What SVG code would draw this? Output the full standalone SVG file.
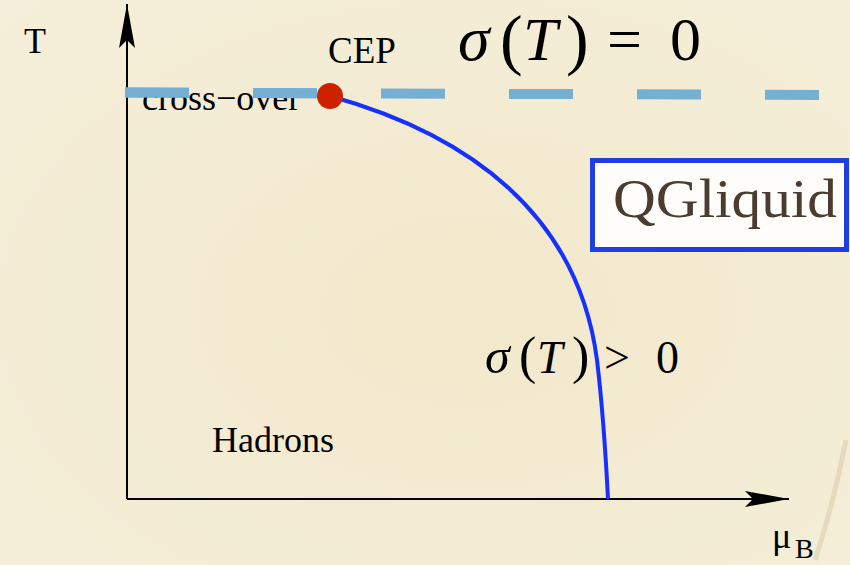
<svg xmlns="http://www.w3.org/2000/svg" width="850" height="565" viewBox="0 0 850 565">
<defs>
<marker id="arr" markerUnits="userSpaceOnUse" orient="auto" markerWidth="50" markerHeight="20" refX="44" refY="8" viewBox="0 0 50 20" overflow="visible">
<path d="M44,8 L0,0 L8,8 L0,16 Z" fill="#000"/>
</marker>
<radialGradient id="bg" cx="0.55" cy="0.55" r="0.8">
<stop offset="0" stop-color="#f2e8cb"/>
<stop offset="1" stop-color="#f5efdb"/>
</radialGradient>
</defs>
<style>
.serif{font-family:"Liberation Serif","Times New Roman",serif;fill:#000}
.it{font-style:italic}
</style>
<rect width="850" height="565" fill="url(#bg)"/>
<path d="M846,440 C838,480 830,515 815,560" stroke="#c8b088" stroke-width="5" fill="none" opacity="0.3"/>

<g id="connectors">
<line x1="127" y1="499" x2="127" y2="4" stroke="#000" stroke-width="2" marker-end="url(#arr)"/>
<line x1="127" y1="499" x2="789" y2="499" stroke="#000" stroke-width="2" marker-end="url(#arr)"/>
<line id="crossover-line" x1="125" y1="92.5" x2="819" y2="95" stroke="#76afd4" stroke-width="10" stroke-dasharray="64 64"/>
<path id="transition-line" d="M330,96 C470,135 578,215 597,360 C603,410 606,460 608,499" stroke="#1530ff" stroke-width="4" fill="none"/>
</g>

<g id="axis-T"><text class="serif" x="24" y="53" font-size="36">T</text></g>
<g id="axis-muB"><text class="serif" x="772" y="548" font-size="36">μ<tspan font-size="28" x="795" y="558">B</tspan></text></g>

<g id="crossover-label"><text class="serif" x="142" y="110" font-size="36">cross−over</text></g>
<line x1="125" y1="92.5" x2="189" y2="92.7" stroke="#76afd4" stroke-width="10"/>
<line x1="253" y1="93" x2="316" y2="93.2" stroke="#76afd4" stroke-width="10"/>

<g id="CEP">
<circle cx="330" cy="96" r="13" fill="#cc2200"/>
<text class="serif" x="328" y="63" font-size="37">CEP</text>
</g>

<g id="sigma-zero">
<text class="serif" y="60"><tspan class="it" x="458" font-size="64">σ</tspan><tspan x="500" y="62" font-size="68">(</tspan><tspan class="it" x="523" y="60" font-size="62">T</tspan><tspan x="566" y="62" font-size="68">)</tspan><tspan x="607" y="60" font-size="62">=</tspan><tspan x="670" font-size="62">0</tspan></text>
</g>

<g id="sigma-positive">
<text class="serif" y="373"><tspan class="it" x="485" font-size="50">σ</tspan><tspan x="519" font-size="52">(</tspan><tspan class="it" x="537" font-size="46">T</tspan><tspan x="572" font-size="52">)</tspan><tspan x="604" font-size="46">&gt;</tspan><tspan x="656" font-size="46">0</tspan></text>
</g>

<g id="QGliquid">
<rect x="592.5" y="160.5" width="254" height="89" fill="#fffdf9" stroke="#1f3ee0" stroke-width="5"/>
<text class="serif" x="613" y="217" font-size="55" textLength="224" lengthAdjust="spacingAndGlyphs" style="fill:#4a3c30">QGliquid</text>
</g>

<g id="Hadrons"><text class="serif" x="212" y="452" font-size="36">Hadrons</text></g>
</svg>
